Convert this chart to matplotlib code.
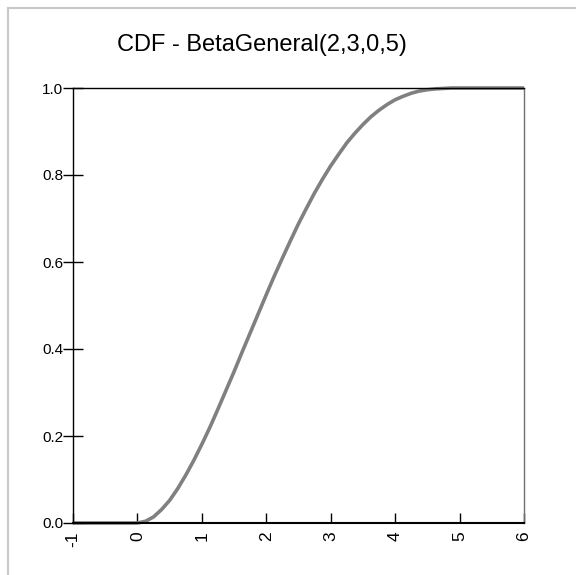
import matplotlib
matplotlib.use("Agg")
import matplotlib.pyplot as plt
from matplotlib.lines import Line2D

plt.rcParams['font.family'] = ['Liberation Sans', 'DejaVu Sans']

# Data
x_vals = [-1.0, 0.0, 0.125, 0.25, 0.375, 0.5, 0.625, 0.75, 0.875, 1.0,
          1.125, 1.25, 1.375, 1.5, 1.625, 1.75, 1.875, 2.0, 2.125, 2.25,
          2.375, 2.5, 2.625, 2.75, 2.875, 3.0, 3.125, 3.25, 3.375, 3.5,
          3.625, 3.75, 3.875, 4.0, 4.125, 4.25, 4.375, 4.5, 4.625, 4.75,
          4.875, 5.0, 6.0]
cdf_vals = [0.0, 0.0, 0.004, 0.014, 0.031, 0.052, 0.079, 0.110, 0.144, 0.181,
            0.220, 0.262, 0.305, 0.348, 0.393, 0.437, 0.481, 0.525, 0.568, 0.609,
            0.649, 0.688, 0.724, 0.759, 0.791, 0.821, 0.848, 0.874, 0.896, 0.916,
            0.934, 0.949, 0.962, 0.973, 0.981, 0.988, 0.993, 0.996, 0.998, 0.999,
            1.0, 1.0, 1.0]
x_ticks = [-1, 0, 1, 2, 3, 4, 5, 6]
x_tick_labels = ['-1', '0', '1', '2', '3', '4', '5', '6']
y_ticks = [0.0, 0.2, 0.4, 0.6, 0.8, 1.0]
y_tick_labels = ['0.0', '0.2', '0.4', '0.6', '0.8', '1.0']
title = 'CDF - BetaGeneral(2,3,0,5)'

W, H = 576, 575
fig = plt.figure(figsize=(W / 100, H / 100), dpi=100)
fig.patch.set_facecolor('white')

ax = fig.add_axes([73 / W, (H - 523) / H, 451 / W, 435 / H])
ax.plot(x_vals, cdf_vals, color='#808080', lw=2.6, solid_capstyle='butt',
        solid_joinstyle='round', zorder=2, clip_on=False)
ax.set_xlim(-1, 6)
ax.set_ylim(0, 1)

ax.set_xticks(x_ticks)
ax.set_xticklabels(x_tick_labels, rotation=90, fontsize=12.5)
ax.set_yticks(y_ticks)
ax.set_yticklabels(y_tick_labels, fontsize=11)
ax.tick_params(axis='y', direction='inout', length=14, width=1, pad=0, colors='black')
ax.tick_params(axis='x', direction='in', length=7, width=1, pad=6, colors='black')
for lab in ax.get_xticklabels():
    lab.set_va('top')

ax.spines['left'].set_linewidth(1.0)
ax.spines['top'].set_linewidth(1.0)
ax.spines['bottom'].set_linewidth(1.5)
ax.spines['right'].set_linewidth(1.0)
ax.spines['right'].set_color('#707070')

fig.text(262 / W, 1 - 51 / H, title, ha='center', va='baseline', fontsize=17)

# light border (top and left)
fig.add_artist(Line2D([8 / W, 1.0], [1 - 8 / H, 1 - 8 / H], color='#c8c8c8', lw=1.5, transform=fig.transFigure))
fig.add_artist(Line2D([8 / W, 8 / W], [0.0, 1 - 8 / H], color='#c8c8c8', lw=1.5, transform=fig.transFigure))

fig.savefig('out.png', dpi=100)
